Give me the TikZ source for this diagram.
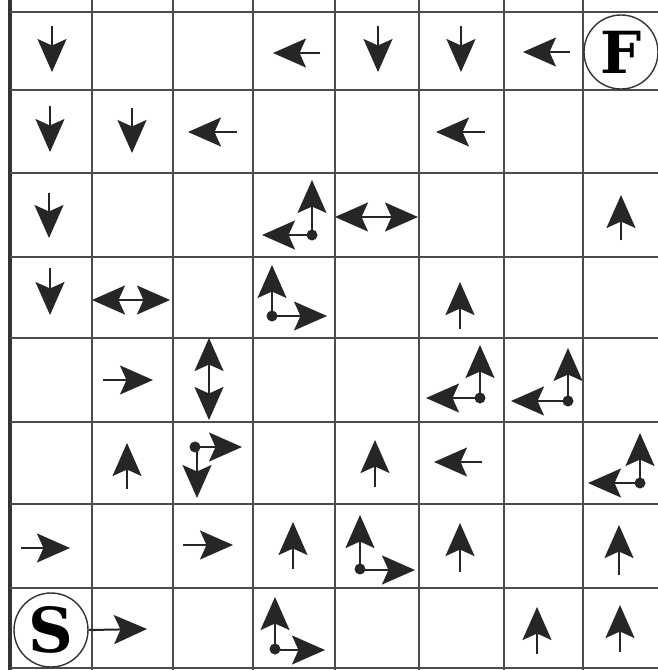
\documentclass[tikz,border=0pt]{standalone}
\usepackage{fontspec}
\newfontfamily\letterfont{DejaVu Serif}
\usetikzlibrary{arrows.meta}
\begin{document}
\begin{tikzpicture}[x=1pt,y=-1pt,
  gridline/.style={draw=black!70,line width=1.6pt},
  arr/.style={draw=black!85,line width=2pt,-{Stealth[length=33pt,width=29pt,inset=6.5pt]}},
  darr/.style={draw=black!85,line width=2pt,{Stealth[length=33pt,width=29pt,inset=6.5pt]}-{Stealth[length=33pt,width=29pt,inset=6.5pt]}},
  dotst/.style={fill=black!85},
  letter/.style={circle,draw=black!80,line width=1.4pt,minimum size=74pt,inner sep=0pt}
]
\useasboundingbox (0,0) rectangle (658,670);
\fill[white] (0,0) rectangle (658,670);
% grid
\foreach \x in {92,173,253,335,419,504,583} \draw[gridline] (\x,0) -- (\x,670);
\draw[draw=black!80,line width=3.5pt] (10,0) -- (10,670);
\foreach \y in {12,90,173,257,338,422,504,588,668} \draw[gridline] (10,\y) -- (658,\y);
% start / finish
\node[letter,font=\letterfont\bfseries\fontsize{58}{58}\selectfont] (F) at (621,52) {F};
\node[letter,font=\letterfont\bfseries\fontsize{62}{62}\selectfont] (S) at (51,630) {S};
\coordinate (s1) at (147,629);
\draw[arr] (S.east) -- (s1);
% row 1
\draw[arr] (52,26) -- (52,72);
\draw[arr] (320,53) -- (273,53);
\draw[arr] (378,26) -- (378,72);
\draw[arr] (461,26) -- (461,72);
\draw[arr] (570,52) -- (523,52);
% row 2
\draw[arr] (50,106) -- (50,152);
\draw[arr] (132,108) -- (132,153);
\draw[arr] (237,132) -- (188,132);
\draw[arr] (485,132) -- (436,132);
% row 3
\draw[arr] (49,193) -- (49,238);
\draw[arr] (312,235) -- (312,180);
\draw[arr] (312,235) -- (262,235);
\fill[dotst] (312,235) circle (5.5);
\draw[darr] (335,217) -- (418,217);
\draw[arr] (621,240) -- (621,195);
% row 4
\draw[arr] (50,268) -- (50,315);
\draw[darr] (92,300) -- (170,300);
\draw[arr] (272,316) -- (272,265);
\draw[arr] (272,316) -- (327,316);
\fill[dotst] (272,316) circle (5.5);
\draw[arr] (460,329) -- (460,282);
% row 5
\draw[arr] (103,380) -- (153,380);
\draw[darr] (209,338) -- (209,420);
\draw[arr] (480,398) -- (480,345);
\draw[arr] (480,398) -- (426,398);
\fill[dotst] (480,398) circle (5.5);
\draw[arr] (568,401) -- (568,348);
\draw[arr] (568,401) -- (511,401);
\fill[dotst] (568,401) circle (5.5);
% row 6
\draw[arr] (127,489) -- (127,443);
\draw[arr] (195,447) -- (242,447);
\draw[arr] (197,447) -- (197,498);
\fill[dotst] (195,447) circle (5.5);
\draw[arr] (375,487) -- (375,440);
\draw[arr] (482,462) -- (434,462);
\draw[arr] (640,483) -- (640,433);
\draw[arr] (640,483) -- (588,483);
\fill[dotst] (640,483) circle (5.5);
% row 7
\draw[arr] (21,548) -- (70,548);
\draw[arr] (183,545) -- (233,545);
\draw[arr] (293,569) -- (293,522);
\draw[arr] (360,569) -- (360,515);
\draw[arr] (360,570) -- (415,570);
\fill[dotst] (360,569) circle (5.5);
\draw[arr] (460,572) -- (460,523);
\draw[arr] (619,575) -- (619,525);
% row 8
\draw[arr] (275,649) -- (275,597);
\draw[arr] (275,650) -- (325,650);
\fill[dotst] (275,649) circle (5.5);
\draw[arr] (537,654) -- (537,607);
\draw[arr] (620,652) -- (620,605);
\end{tikzpicture}
\end{document}
